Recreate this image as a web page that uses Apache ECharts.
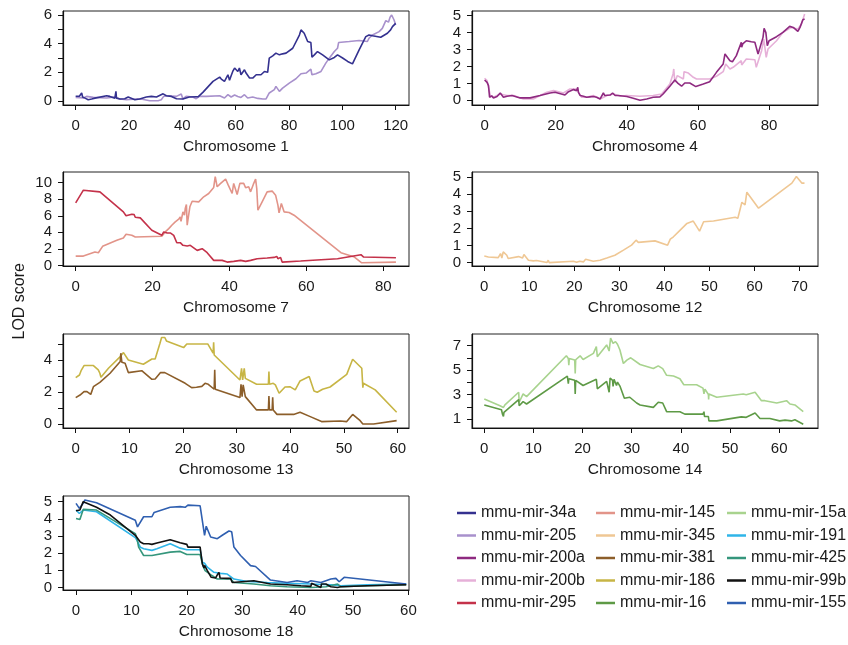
<!DOCTYPE html>
<html><head><meta charset="utf-8">
<script src="https://cdn.jsdelivr.net/npm/echarts@6/dist/echarts.min.js"></script>
<style>html,body{margin:0;padding:0;background:#fff}#c{width:848px;height:645px}</style>
</head><body><div id="c"></div>
<script>
// ---------- data: [position (cM), LOD] ----------
const mir34a = [[0,0.33],[1.4,0.33],[2.25,0.56],[2.6,0.28],[3.5,0.2],[4.7,0.09],[6,0.14],[7.2,0.2],[7.8,0.32],[11.6,0.37],[12.8,0.32],[14.7,0.2],[15.1,0.67],[15.3,0.2],[16.6,0.14],[18.4,0.16],[19.7,0.28],[20.3,0.32],[22.2,0.09],[24,0.14],[26.5,0.28],[28.4,0.32],[30.3,0.28],[32.8,0.5],[34,0.37],[35.9,0.32],[37.8,0.16],[40.2,0.14],[42.6,0.28],[45.2,0.3],[46,0.3],[47.7,0.6],[51.5,1.37],[52.1,1.33],[54,1.67],[54.6,1.53],[55.2,1.6],[55.8,1.37],[57.1,1.83],[57.7,1.44],[58.3,1.76],[58.9,2.06],[59.6,2.3],[60.2,2.18],[60.8,2.06],[61.4,2.3],[62,1.83],[62.7,1.71],[63.3,2.18],[63.9,1.95],[65.2,1.6],[66.4,1.6],[67.7,1.83],[69.5,1.83],[70.8,2.06],[71.4,1.95],[72,2.0],[72.6,2.99],[73.9,3.15],[75.1,3.34],[76.4,3.22],[77.6,3.29],[78.9,3.34],[81.4,3.68],[83.9,4.6],[84.5,4.96],[85.1,4.96],[85.7,4.73],[87,4.15],[88.2,4.08],[88.6,3.06],[89.5,3.22],[90.7,3.45],[92.6,3.22],[95.1,2.87],[97,3.04],[98.2,3.22],[100.1,3.0],[102,2.76],[103.8,2.59],[106.3,3.57],[108.8,4.49],[110,4.61],[111.3,4.55],[114.4,4.45],[116.9,4.73],[118.1,4.96],[118.8,5.19],[119.4,5.3],[120,5.42]];
const mir205 = [[0,0.25],[2.9,0.21],[4.1,0.32],[6.6,0.25],[11.6,0.21],[14.7,0.28],[16.6,0.14],[19.1,0.09],[24,0.16],[27.8,0.02],[30.9,0.02],[32.1,0.09],[33,0.32],[34,0.37],[37.8,0.32],[39.6,0.49],[40.2,0.14],[41.4,0.32],[43.9,0.28],[45.2,0.16],[46.4,0.32],[49,0.32],[54,0.37],[55.8,0.21],[57.1,0.44],[58.3,0.28],[59.6,0.42],[60.8,0.32],[62,0.25],[63.3,0.44],[63.9,0.49],[64.5,0.21],[66.4,0.28],[68.3,0.18],[70.2,0.14],[71.4,0.14],[72.6,0.56],[74.5,0.79],[75.1,1.02],[75.8,1.07],[76.4,0.67],[77.6,0.9],[80.1,1.25],[82.6,1.55],[84.5,1.9],[85.1,1.83],[86.4,1.95],[88.2,2.22],[88.6,1.83],[90.1,1.9],[92,2.06],[93.8,2.64],[95.1,2.99],[97,3.45],[98.2,3.68],[98.6,4.08],[102.6,4.15],[106.3,4.22],[109.4,4.15],[110,4.38],[111.3,4.61],[113.8,4.84],[115,5.07],[116.3,5.61],[116.9,5.72],[117.3,5.5],[117.9,5.84],[118.5,6.0],[119.4,5.65],[120,5.3]];
const mir200a = [[0,1.2],[0.7,1.06],[1.1,0.87],[1.4,0.18],[2,0.26],[2.5,0.14],[3.5,0.22],[4.4,0.43],[5.3,0.18],[6.3,0.24],[7.7,0.28],[10,0.14],[12.8,0.14],[15.6,0.28],[18.4,0.43],[19.8,0.47],[22.6,0.31],[23.6,0.51],[25,0.63],[25.9,0.57],[26.2,0.77],[26.4,0.47],[26.9,0.28],[27.8,0.24],[28.7,0.18],[29.2,0.08],[29.6,0.2],[30.6,0.22],[31.5,0.18],[32.5,0.08],[33,0.08],[33.4,0.43],[33.8,0.28],[35.3,0.31],[36,0.43],[36.7,0.28],[37.6,0.28],[38.1,0.22],[40,0.22],[41.8,0.12],[43.7,0.0],[45.6,0.08],[47.4,0.18],[49.3,0.2],[50.2,0.37],[52.1,0.83],[53.5,1.2],[54,1.26],[54.4,1.0],[55.4,0.83],[56.3,1.02],[57.7,1.02],[59.4,0.81],[61.5,0.96],[63.3,1.1],[65.2,1.65],[67.1,2.15],[67.6,2.74],[69,2.34],[69.7,2.28],[70.8,2.64],[72.2,3.43],[72.3,3.14],[72.6,3.33],[73.6,3.52],[75,3.46],[76,3.43],[76.9,2.74],[78.3,3.72],[78.6,4.25],[79.1,4.0],[79.5,3.23],[80,3.52],[82.1,3.76],[83.9,4.02],[85.8,4.37],[86.8,4.31],[88.1,4.07],[88.7,4.31],[89.5,4.76],[90,4.8]];
const mir200b = [[0,1.3],[0.7,1.16],[1.1,1.06],[1.6,0.28],[2.5,0.18],[4.4,0.37],[6.3,0.28],[8.2,0.28],[10.9,0.08],[13.7,0.08],[15.6,0.28],[17.5,0.47],[19.4,0.57],[22.2,0.43],[24,0.67],[25.9,0.67],[26.4,0.47],[27.3,0.18],[28.7,0.18],[30.6,0.28],[32.5,0.08],[34.4,0.28],[36.3,0.37],[38.2,0.24],[39.9,0.28],[43.7,0.24],[47.4,0.28],[49.8,0.37],[52.1,0.96],[53,1.56],[53.2,1.85],[53.5,1.06],[54.2,1.46],[55.9,1.26],[56.1,1.69],[57.3,1.61],[58.7,1.36],[59.6,1.26],[63.3,1.26],[65.2,1.42],[67.1,1.69],[67.8,2.15],[69,1.85],[69.9,1.95],[72.2,2.34],[72.3,2.09],[73.6,2.44],[76,2.4],[76.4,1.95],[77.9,2.93],[78.5,3.62],[79.2,2.54],[79.7,3.03],[82.1,3.52],[83.9,4.02],[86.3,4.31],[88.1,4.21],[89.1,4.5],[90,5.1]];
const mir295 = [[0,7.57],[2,9.1],[6.3,8.9],[12.4,6.48],[13.1,6.0],[14.6,6.2],[15.2,6.15],[15.5,5.83],[16.8,5.75],[19.8,4.25],[22.4,3.64],[22.9,4.05],[23.8,3.93],[24.6,3.93],[25.5,3.64],[26.3,2.75],[27.2,2.75],[27.7,2.83],[27.9,2.43],[29,2.35],[29.8,2.43],[31.6,1.82],[32.9,2.02],[34.2,1.54],[35.9,0.61],[38.1,0.61],[39.4,0.4],[41.1,0.49],[42.9,0.61],[44.2,0.49],[45.5,0.61],[47.2,0.81],[49.8,0.89],[51.6,0.97],[52.3,1.09],[52.6,0.81],[53.3,0.97],[53.7,0.4],[58.5,0.53],[68.1,0.81],[74.2,1.3],[74.9,1.01],[83.3,0.93]];
const mir145 = [[0,1.13],[2,1.13],[5,1.62],[5.9,1.54],[7,2.31],[10.7,3.04],[12.4,3.32],[13.1,3.77],[14.6,3.64],[15.5,3.44],[22.4,3.52],[23.3,4.05],[24.2,4.45],[25,4.86],[25.9,5.26],[26.8,5.59],[27.2,5.87],[27.4,5.34],[27.9,6.48],[28.3,6.07],[28.5,6.88],[28.8,7.37],[29,4.86],[29.7,7.09],[30.3,7.77],[32,7.69],[33.3,8.3],[34.6,8.7],[35.9,9.43],[36.3,10.73],[36.8,9.51],[37.7,9.92],[39,10.45],[39.6,9.8],[40.7,8.7],[41.1,9.92],[41.5,9.92],[42,8.58],[42.7,9.92],[43.7,9.92],[44.2,9.39],[45,9.51],[45.5,8.9],[46.2,9.8],[46.8,10.45],[47.1,9.3],[47.4,6.68],[48.5,7.69],[49.8,8.9],[51.1,8.99],[52,8.5],[52.6,7.29],[52.9,6.36],[53.5,7.49],[54.2,6.48],[55.5,6.4],[56.8,6.07],[69,1.54],[72.5,1.01],[74.4,0.32],[83.3,0.4]];
const mir345 = [[0,0.39],[0.9,0.33],[3.1,0.29],[3.6,0.53],[3.9,0.27],[4.2,0.63],[5,0.43],[5.3,0.24],[7.6,0.35],[8.5,0.27],[8.8,0.47],[9.8,0.14],[10.9,0.1],[11.6,0.12],[13.9,0.0],[14.2,0.14],[14.4,0.0],[19.8,0.08],[20.5,0.02],[21.2,0.08],[21.6,0.14],[22,0.04],[22.5,0.2],[24.2,0.08],[24.6,0.18],[25.7,0.14],[27.2,0.27],[29,0.43],[30.9,0.73],[32.7,1.02],[33.7,1.31],[34.2,1.18],[37.9,1.27],[40.7,1.02],[41.3,1.37],[42,1.51],[43.5,1.9],[45,2.29],[46.4,2.43],[46.8,2.35],[47.8,1.84],[48.7,2.39],[50.9,2.43],[55.7,2.65],[56.3,2.59],[57.2,3.53],[57.9,3.37],[58.3,4.12],[58.7,4.16],[60.9,3.18],[68.3,4.65],[69.3,5.04],[70.5,4.65],[71.1,4.65]];
const mir186 = [[0,2.9],[0.7,3.06],[1,3.33],[1.3,3.27],[1.55,3.65],[3.3,3.65],[4.2,3.38],[4.5,3.17],[4.7,2.92],[6.1,3.48],[8.3,4.21],[8.9,4.46],[9.2,4.42],[9.8,4.0],[12.6,3.73],[14.2,4.06],[14.8,4.06],[15.7,5.04],[16,5.4],[16.6,5.4],[16.9,5.19],[20.1,4.77],[20.7,5.0],[24.6,5.0],[25.6,4.42],[25.7,5.1],[25.8,4.31],[30.6,2.75],[30.9,3.48],[31.1,2.75],[31.4,3.48],[31.6,2.85],[33.7,2.48],[35.9,2.48],[36,3.27],[36.1,2.48],[36.8,2.54],[37.2,2.44],[37.9,1.92],[39,2.31],[39.9,2.33],[40.9,2.13],[41.8,2.69],[43.5,2.96],[44.4,2.06],[45,1.98],[46,2.17],[47.4,2.31],[50.5,3.1],[51.6,4.04],[53.3,3.48],[53.5,2.27],[53.6,2.54],[55.8,2.13],[59.8,0.73]];
const mir381 = [[0,1.65],[0.8,1.81],[1.1,1.81],[1.55,2.02],[2.1,2.02],[2.8,1.85],[3.3,2.33],[4.5,2.6],[4.8,2.54],[6.4,3.17],[8.3,3.9],[8.4,4.42],[8.6,3.85],[9.2,3.79],[9.8,3.21],[12.3,3.33],[14.2,2.79],[14.8,2.81],[15.8,3.21],[16.6,3.21],[20.4,2.54],[21.6,2.27],[22.5,2.29],[23.5,2.35],[24.1,2.54],[24.7,2.48],[25.8,2.17],[25.9,3.38],[26,2.17],[30.6,1.65],[30.8,2.48],[31,1.71],[31.2,2.44],[31.6,1.71],[33.7,0.88],[35.9,0.88],[36,1.75],[36.1,0.88],[36.6,0.88],[36.7,1.67],[36.8,0.88],[37.5,0.6],[40.6,0.6],[40.9,0.52],[41.8,0.73],[43.7,0.46],[45.8,0.15],[49.3,0.19],[50.5,0.15],[51.6,0.6],[53,0.21],[53.5,0.0],[55.5,0.0],[59.8,0.21]];
const mir16 = [[0,2.16],[3.5,1.77],[3.7,1.41],[3.9,1.22],[4,1.55],[7,2.6],[7.1,2.1],[7.9,2.43],[8.6,2.24],[16.9,4.52],[17.1,3.89],[17.2,4.3],[18.4,4.17],[18.5,3.06],[18.6,4.17],[20.1,3.75],[22.8,4.25],[23,3.48],[24.9,4.08],[25.4,3.2],[25.6,4.36],[26.1,4.17],[26.2,3.67],[26.4,4.25],[26.9,3.75],[27.1,4.03],[27.6,3.7],[28.5,2.71],[29.6,2.79],[31,2.32],[31.7,2.16],[34.4,1.96],[35.4,2.38],[36.3,2.32],[37.1,1.61],[39.8,1.61],[40.8,1.41],[44.5,1.41],[44.7,1.61],[44.8,1.22],[45.6,1.22],[45.7,0.86],[47.3,0.86],[52.3,1.19],[53.3,1.15],[55.1,1.5],[56.1,1.06],[58.1,1.06],[60.1,0.86],[61.2,0.92],[62.5,0.86],[63.2,0.95],[64.9,0.59]];
const mir15a = [[0,2.65],[3.2,2.1],[3.5,2.18],[3.9,1.96],[4.2,2.16],[7,3.2],[7.1,2.38],[7.9,3.06],[8.6,2.84],[16.7,6.17],[17.1,5.95],[17.2,5.4],[17.3,5.95],[18.4,5.82],[18.5,4.72],[18.6,5.85],[19.5,6.17],[20.1,5.87],[22.2,6.37],[22.8,6.92],[23,6.09],[24.9,7.06],[25.4,6.56],[25.7,7.61],[26.1,7.47],[26.2,7.19],[26.7,7.33],[27.1,7.11],[27.6,6.64],[28.3,5.54],[29,5.82],[29.8,6.01],[31.7,5.46],[34.4,5.13],[35.4,5.35],[36.3,5.13],[37.1,4.58],[38.5,4.52],[39.8,4.3],[40.6,3.81],[43.2,3.81],[44.5,3.53],[44.7,3.06],[44.9,3.45],[45.6,3.01],[45.65,2.6],[45.7,3.06],[47.3,2.79],[52.7,3.06],[53.3,3.0],[55.1,3.2],[56.4,2.51],[57.1,2.51],[59.5,2.32],[61.5,2.51],[62.2,2.24],[63.2,2.16],[64.9,1.61]];
const mir191 = [[0,4.51],[0.6,4.31],[1.3,4.51],[1.6,4.61],[3.7,4.41],[10.7,2.9],[11,2.75],[11.6,2.35],[12.2,2.25],[13.7,2.16],[14.6,2.25],[17,2.55],[18.8,2.29],[19.1,2.35],[20,2.2],[22.4,2.2],[22.8,1.47],[23.2,1.41],[23.7,1.18],[24.9,0.88],[26.1,0.82],[27.3,0.78],[28.5,0.49],[30.9,0.35],[34.5,0.29],[38.1,0.24],[42.4,0.2],[46,0.16],[47.8,0.1],[52.6,0.16],[59.6,0.2]];
const mir425 = [[0,4.02],[0.7,3.96],[1.3,4.55],[3.7,4.51],[10.7,3.14],[11,2.84],[11.3,2.35],[12.2,1.86],[13.7,1.86],[17,2.06],[18.8,2.1],[20,1.92],[22.4,1.92],[22.9,1.27],[23.3,0.98],[24.3,0.75],[25.5,0.49],[27.9,0.49],[28.5,0.29],[32.1,0.2],[35.1,0.1],[38.1,0.04],[42.4,0.0],[45.1,0.04],[47.2,0.2],[47.8,0.04],[52.6,0.1],[59.6,0.16]];
const mir99b = [[0,4.47],[0.7,4.51],[1.3,5.0],[1.6,4.94],[3.7,4.67],[6.2,4.22],[10.7,3.04],[11,2.94],[11.6,2.65],[12.2,2.55],[13.1,2.55],[13.7,2.51],[14.6,2.59],[17,2.78],[18.8,2.61],[20,2.51],[20.2,2.35],[22.4,2.35],[22.8,1.37],[23.1,1.14],[23.2,1.28],[23.7,0.98],[24,1.08],[24.4,0.59],[25.2,0.55],[25.5,0.73],[25.8,0.88],[26,0.55],[27.3,0.53],[27.9,0.53],[28.2,0.29],[28.5,0.35],[32.1,0.39],[35.1,0.2],[38.1,0.16],[40.6,0.1],[42.4,0.06],[42.5,0.24],[44.2,0.0],[44.3,0.2],[45.1,0.2],[46,0.04],[47.2,0.0],[47.8,0.04],[52.6,0.1],[59.6,0.16]];
const mir155 = [[0,4.9],[0.6,4.61],[1.3,4.9],[1.6,5.1],[3.7,4.94],[10.7,3.92],[11,3.82],[11.1,3.53],[12.2,4.12],[13.7,4.12],[14.1,4.37],[17,4.67],[18.8,4.71],[19.1,4.61],[19.7,4.67],[20.2,4.8],[22.4,4.76],[23.2,3.04],[23.5,3.57],[24.3,2.94],[25.5,2.84],[26.4,3.04],[27.6,3.29],[28.1,3.24],[28.5,2.35],[29.7,1.86],[31.5,1.27],[32.4,1.22],[35.1,0.43],[38.1,0.29],[39.9,0.39],[41.8,0.29],[42.4,0.39],[44.2,0.29],[45.1,0.39],[46,0.49],[46.9,0.53],[47.5,0.33],[48.4,0.59],[59.6,0.2]];

// tick values per panel
const chr1XTicks = [0,20,40,60,80,100,120], chr1YTicks = [0,1,2,3,4,5,6], chr1YLabels = [0,2,4,6];
const chr4XTicks = [0,20,40,60,80], chr4YTicks = [0,1,2,3,4,5];
const chr7XTicks = [0,20,40,60,80], chr7YTicks = [0,2,4,6,8,10];
const chr12XTicks = [0,10,20,30,40,50,60,70], chr12YTicks = [0,1,2,3,4,5];
const chr13XTicks = [0,10,20,30,40,50,60], chr13YTicks = [0,1,2,3,4,5], chr13YLabels = [0,2,4];
const chr14XTicks = [0,10,20,30,40,50,60], chr14YTicks = [1,2,3,4,5,6,7], chr14YLabels = [1,3,5,7];
const chr18XTicks = [0,10,20,30,40,50,60], chr18YTicks = [0,1,2,3,4,5];

const panelNames = ['Chromosome 1','Chromosome 4','Chromosome 7','Chromosome 12','Chromosome 13','Chromosome 14','Chromosome 18'];
const seriesNames = ['mmu-mir-34a','mmu-mir-205','mmu-mir-200a','mmu-mir-200b','mmu-mir-295','mmu-mir-145','mmu-mir-345','mmu-mir-381','mmu-mir-186','mmu-mir-16','mmu-mir-15a','mmu-mir-191','mmu-mir-425','mmu-mir-99b','mmu-mir-155'];

// ---------- layout / style ----------
const FONT = '"Liberation Sans", Arial, Helvetica, sans-serif';
const TXT = '#1a1a1a';
const panels = [
  {left:63, top:11, xr:[-4.75,125], yr:[-0.28,6.28], xt:chr1XTicks, yt:chr1YTicks, yl:chr1YLabels},
  {left:472, top:11, xr:[-3.54,93.76], yr:[-0.28,5.28], xt:chr4XTicks, yt:chr4YTicks, yl:chr4YTicks},
  {left:63, top:172, xr:[-3.3,86.7], yr:[-0.07,11.3], xt:chr7XTicks, yt:chr7YTicks, yl:chr7YTicks},
  {left:472, top:172, xr:[-2.73,74.1], yr:[-0.2,5.3], xt:chr12XTicks, yt:chr12YTicks, yl:chr12YTicks},
  {left:63, top:334, xr:[-2.37,62.1], yr:[-0.25,5.62], xt:chr13XTicks, yt:chr13YTicks, yl:chr13YLabels},
  {left:472, top:334, xr:[-2.5,67.9], yr:[0.28,7.95], xt:chr14XTicks, yt:chr14YTicks, yl:chr14YLabels},
  {left:63, top:496, xr:[-2.35,60.1], yr:[-0.15,5.33], xt:chr18XTicks, yt:chr18YTicks, yl:chr18YTicks}
];
const W = 346, H = 94;
const seriesDefs = [
  {d:mir34a, p:0, c:'#34318f'},
  {d:mir205, p:0, c:'#a891cc'},
  {d:mir200a, p:1, c:'#8e2a80'},
  {d:mir200b, p:1, c:'#e6b0d8'},
  {d:mir295, p:2, c:'#c4324a'},
  {d:mir145, p:2, c:'#e29489'},
  {d:mir345, p:3, c:'#efc794'},
  {d:mir381, p:4, c:'#8c5e2a'},
  {d:mir186, p:4, c:'#c7b545'},
  {d:mir16, p:5, c:'#5e9a46'},
  {d:mir15a, p:5, c:'#a8d38e'},
  {d:mir191, p:6, c:'#2fb5e8'},
  {d:mir425, p:6, c:'#35967c'},
  {d:mir99b, p:6, c:'#111111'},
  {d:mir155, p:6, c:'#2f5fb0'}
];
const drawOrder = [1,0,3,2,5,4,6,8,7,10,9,11,12,14,13];

const grid = [], xAxis = [], yAxis = [];
panels.forEach((p, i) => {
  grid.push({left:p.left, top:p.top, width:W, height:H, show:true, borderColor:'#222', borderWidth:1, backgroundColor:'transparent'});
  xAxis.push({type:'value', gridIndex:i, min:p.xr[0], max:p.xr[1],
    name:panelNames[i], nameLocation:'middle', nameGap:34,
    nameTextStyle:{fontSize:15.5, color:TXT, fontFamily:FONT},
    axisLine:{show:true, onZero:false, lineStyle:{color:'#111', width:1.2}},
    axisTick:{show:true, length:5, customValues:p.xt, lineStyle:{color:'#111', width:1}},
    axisLabel:{show:true, customValues:p.xt, margin:13, fontSize:15, color:TXT, fontFamily:FONT},
    splitLine:{show:false}});
  yAxis.push({type:'value', gridIndex:i, min:p.yr[0], max:p.yr[1],
    axisLine:{show:true, onZero:false, lineStyle:{color:'#111', width:1.2}},
    axisTick:{show:true, length:5, customValues:p.yt, lineStyle:{color:'#111', width:1}},
    axisLabel:{show:true, customValues:p.yl, margin:11, fontSize:15, color:TXT, fontFamily:FONT},
    splitLine:{show:false}});
});

const series = drawOrder.map(k => {
  const s = seriesDefs[k];
  return {type:'line', name:seriesNames[k], data:s.d, xAxisIndex:s.p, yAxisIndex:s.p,
    showSymbol:false, symbol:'none', lineStyle:{color:s.c, width:1.6}, itemStyle:{color:s.c},
    emphasis:{disabled:true}, silent:true, animation:false, clip:true};
});

const legendCols = [[0,1,2,3,4],[5,6,7,8,9],[10,11,12,13,14]];
const legendLefts = [457, 596, 727];
const legend = legendCols.map((col, j) => ({
  orient:'vertical', left:legendLefts[j], top:505, padding:0, data:col.map(k => seriesNames[k]),
  icon:'rect', itemWidth:19, itemHeight:2.5, itemGap:6.5, selectedMode:false,
  textStyle:{fontSize:16, lineHeight:16, color:TXT, fontFamily:FONT}
}));

const chart = echarts.init(document.getElementById('c'), null, {renderer:'canvas'});
chart.setOption({
  animation:false,
  backgroundColor:'#fff',
  grid, xAxis, yAxis, series, legend,
  graphic:[{type:'text', left:12, top:263, rotation:Math.PI/2,
    style:{text:'LOD score', fontSize:16, fill:TXT, fontFamily:FONT}}]
});
</script></body></html>
